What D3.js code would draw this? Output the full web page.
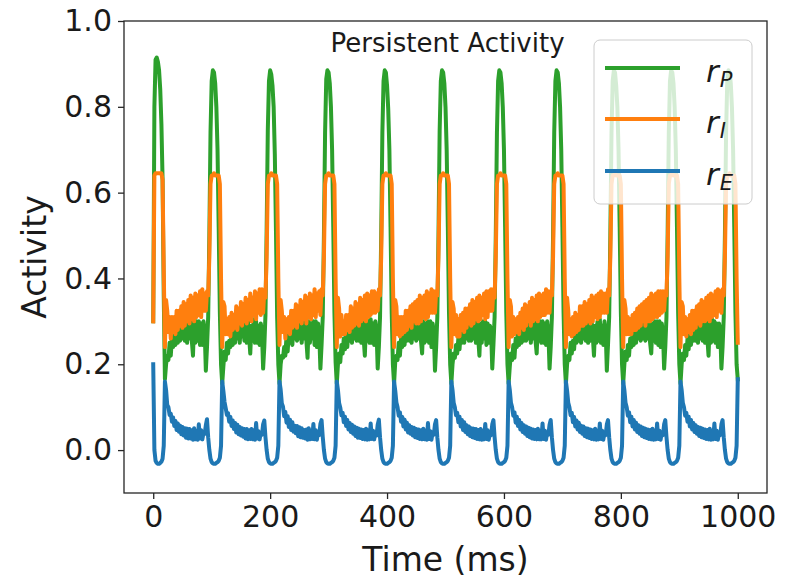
<!DOCTYPE html>
<html>
<head>
<meta charset="utf-8">
<script src="https://cdn.jsdelivr.net/npm/d3@7"></script>
<style>
  html, body { margin: 0; padding: 0; background: #ffffff; }
  svg { display: block; }
</style>
</head>
<body>
<svg id="chart" width="786" height="580"></svg>
<script>
// Sampling grid of the simulation (ms)
const timeMs = d3.range(0, 1001, 2);

const xTicks = [0, 200, 400, 600, 800, 1000];
const yTicks = [0.0, 0.2, 0.4, 0.6, 0.8, 1.0];

const chartTitle = "Persistent Activity";
const xLabel = "Time (ms)";
const yLabel = "Activity";

// rP: persistent population rate, one row per oscillation cycle
const rP = [
  0.30,0.80,0.91,0.915,0.905,0.885,0.84,0.76,0.63,0.36,0.165,
  0.20,0.22,0.21,0.25, 0.22,0.26,0.24,0.275,0.245,0.285,0.25,0.29,0.255,0.29, 0.26,0.30,0.255,0.30,0.25,0.305,0.26,0.30,0.255,0.22, 0.30,0.25,0.30,0.255,0.30,0.245,0.295,0.245,0.30,
  0.28,0.185,0.24,0.31,0.50,0.74,0.86,0.885,0.88,0.855, 0.80,0.70,0.52,0.32,0.20,0.155,0.195,0.23,0.21,0.25, 0.225,0.255,0.24,0.27,0.245,0.285,0.25,0.285,0.26,0.295, 0.25,0.30,0.265,0.29,0.255,0.305,0.25,0.30,0.265,0.225, 0.29,0.255,0.305,0.25,0.30,0.25,0.29,0.245,0.295,
  0.275,0.19,0.24,0.315,0.51,0.745,0.86,0.885,0.875,0.85, 0.80,0.69,0.51,0.31,0.20,0.155,0.20,0.22,0.215,0.24, 0.22,0.265,0.23,0.275,0.25,0.28,0.245,0.29,0.26,0.29, 0.255,0.305,0.26,0.30,0.25,0.295,0.26,0.305,0.255,0.215, 0.30,0.25,0.295,0.26,0.30,0.245,0.30,0.24,0.295,
  0.27,0.19,0.245,0.31,0.50,0.74,0.865,0.885,0.88,0.855, 0.80,0.70,0.52,0.32,0.205,0.155,0.20,0.225,0.205,0.245, 0.225,0.26,0.235,0.28,0.24,0.285,0.255,0.29,0.25,0.30, 0.26,0.295,0.255,0.30,0.255,0.305,0.25,0.30,0.26,0.22, 0.295,0.255,0.30,0.25,0.305,0.25,0.295,0.245,0.30,
  0.28,0.19,0.24,0.31,0.50,0.74,0.86,0.885,0.88,0.85, 0.795,0.70,0.52,0.32,0.20,0.155,0.205,0.22,0.21,0.25, 0.22,0.26,0.24,0.27,0.245,0.28,0.255,0.285,0.255,0.295, 0.25,0.30,0.26,0.30,0.255,0.30,0.26,0.30,0.255,0.225, 0.30,0.25,0.295,0.255,0.30,0.25,0.30,0.24,0.295,
  0.275,0.185,0.24,0.31,0.50,0.745,0.86,0.885,0.88,0.855, 0.80,0.70,0.52,0.32,0.20,0.155,0.20,0.225,0.215,0.245, 0.225,0.26,0.235,0.275,0.25,0.28,0.25,0.29,0.26,0.29, 0.255,0.305,0.255,0.295,0.26,0.30,0.25,0.305,0.26,0.22, 0.295,0.25,0.30,0.26,0.30,0.245,0.295,0.25,0.29,
  0.28,0.19,0.245,0.31,0.50,0.74,0.86,0.885,0.88,0.855, 0.80,0.70,0.52,0.32,0.20,0.155,0.195,0.225,0.21,0.245, 0.215,0.26,0.24,0.275,0.245,0.285,0.25,0.29,0.255,0.30, 0.255,0.295,0.26,0.30,0.25,0.30,0.26,0.30,0.255,0.225, 0.30,0.255,0.30,0.25,0.30,0.25,0.295,0.245,0.30,
  0.275,0.19,0.24,0.31,0.50,0.74,0.86,0.885,0.88,0.855, 0.80,0.70,0.52,0.32,0.20,0.155,0.20,0.22,0.21,0.25, 0.225,0.255,0.235,0.275,0.25,0.28,0.255,0.285,0.25,0.295, 0.26,0.30,0.255,0.30,0.25,0.305,0.255,0.30,0.265,0.22, 0.29,0.25,0.30,0.255,0.305,0.25,0.29,0.245,0.30,
  0.28,0.185,0.245,0.31,0.50,0.74,0.86,0.885,0.88,0.85, 0.80,0.70,0.52,0.32,0.20,0.155,0.20,0.23,0.21,0.245, 0.22,0.26,0.24,0.27,0.245,0.285,0.25,0.29,0.26,0.295, 0.255,0.30,0.26,0.295,0.255,0.30,0.26,0.305,0.25,0.225, 0.295,0.255,0.30,0.25,0.30,0.245,0.30,0.24,0.295,
  0.275,0.19,0.24,0.31,0.50,0.74,0.86,0.885,0.88,0.855, 0.80,0.70,0.52,0.32,0.20,0.155,0.20,0.225,0.21,0.245, 0.22,0.26,0.235,0.28,0.245,0.28,0.255,0.29,0.255,0.295, 0.25,0.30,0.26,0.30,0.255,0.30,0.25,0.305,0.26,0.22, 0.295,0.25,0.305,0.255,0.30,0.25,0.295,0.24,0.295,
  0.28,0.19,0.24,0.31,0.50,0.74,0.86,0.885,0.88,0.855, 0.80,0.70,0.52,0.32,0.20,0.165
];

// rI: inhibitory population rate
const rI = [
  0.30,0.64,0.645,0.645,0.645,0.645,0.645,0.645,0.63,0.42,0.24,
  0.35,0.325,0.275,0.31, 0.26,0.31,0.275,0.31,0.27,0.325,0.28,0.325,0.29,0.335, 0.285,0.345,0.29,0.34,0.30,0.35,0.295,0.36,0.305,0.355, 0.30,0.365,0.31,0.36,0.315,0.37,0.31,0.375,0.325,
  0.365,0.325,0.37,0.36,0.45,0.62,0.64,0.64,0.645,0.64, 0.64,0.64,0.64,0.62,0.40,0.24,0.345,0.335,0.27,0.305, 0.27,0.31,0.265,0.32,0.28,0.315,0.285,0.335,0.28,0.33, 0.295,0.345,0.29,0.34,0.30,0.355,0.295,0.35,0.305,0.365, 0.30,0.355,0.315,0.37,0.305,0.365,0.32,0.375,0.315,
  0.375,0.32,0.37,0.355,0.45,0.62,0.64,0.64,0.645,0.64, 0.64,0.64,0.64,0.62,0.40,0.245,0.35,0.325,0.275,0.31, 0.26,0.305,0.275,0.31,0.27,0.325,0.285,0.325,0.29,0.34, 0.285,0.335,0.30,0.35,0.295,0.345,0.305,0.36,0.295,0.355, 0.31,0.365,0.305,0.36,0.315,0.375,0.31,0.365,0.325,
  0.37,0.315,0.375,0.36,0.45,0.62,0.64,0.64,0.645,0.64, 0.64,0.64,0.64,0.62,0.40,0.24,0.355,0.33,0.265,0.315, 0.27,0.30,0.27,0.315,0.28,0.315,0.275,0.335,0.285,0.33, 0.29,0.345,0.295,0.34,0.29,0.355,0.30,0.35,0.305,0.36, 0.30,0.365,0.31,0.36,0.315,0.37,0.32,0.37,0.32,
  0.365,0.325,0.375,0.36,0.45,0.62,0.64,0.64,0.645,0.64, 0.64,0.64,0.64,0.62,0.40,0.24,0.35,0.335,0.27,0.31, 0.265,0.31,0.27,0.31,0.275,0.325,0.28,0.325,0.29,0.335, 0.285,0.34,0.30,0.345,0.295,0.35,0.295,0.36,0.30,0.355, 0.31,0.36,0.305,0.37,0.31,0.365,0.32,0.375,0.32,
  0.37,0.32,0.37,0.36,0.45,0.62,0.64,0.64,0.645,0.64, 0.64,0.64,0.64,0.62,0.40,0.24,0.345,0.33,0.27,0.315, 0.265,0.305,0.265,0.315,0.28,0.32,0.275,0.33,0.285,0.33, 0.295,0.34,0.29,0.35,0.295,0.345,0.305,0.355,0.30,0.36, 0.305,0.355,0.315,0.365,0.305,0.37,0.31,0.37,0.325,
  0.375,0.325,0.375,0.355,0.45,0.62,0.64,0.64,0.645,0.64, 0.64,0.64,0.64,0.62,0.40,0.24,0.35,0.335,0.265,0.31, 0.27,0.305,0.275,0.31,0.27,0.32,0.285,0.33,0.28,0.34, 0.29,0.335,0.30,0.345,0.29,0.355,0.30,0.35,0.305,0.36, 0.30,0.365,0.31,0.36,0.315,0.365,0.315,0.375,0.32,
  0.37,0.32,0.37,0.36,0.45,0.62,0.64,0.64,0.645,0.64, 0.64,0.64,0.64,0.62,0.40,0.24,0.355,0.325,0.27,0.305, 0.265,0.31,0.27,0.32,0.275,0.315,0.28,0.335,0.29,0.335, 0.29,0.345,0.295,0.34,0.30,0.35,0.295,0.36,0.30,0.355, 0.31,0.36,0.305,0.365,0.31,0.37,0.32,0.365,0.32,
  0.365,0.32,0.375,0.36,0.45,0.62,0.64,0.64,0.645,0.64, 0.64,0.64,0.64,0.62,0.40,0.24,0.35,0.33,0.27,0.31, 0.27,0.305,0.27,0.315,0.28,0.32,0.28,0.33,0.285,0.335, 0.29,0.34,0.30,0.345,0.29,0.35,0.30,0.355,0.30,0.365, 0.305,0.36,0.31,0.365,0.31,0.37,0.315,0.37,0.32,
  0.37,0.325,0.37,0.36,0.45,0.62,0.64,0.64,0.645,0.64, 0.64,0.64,0.64,0.62,0.40,0.24,0.345,0.335,0.27,0.31, 0.265,0.305,0.275,0.315,0.27,0.325,0.28,0.325,0.285,0.335, 0.295,0.34,0.29,0.35,0.30,0.345,0.30,0.355,0.305,0.36, 0.30,0.365,0.31,0.36,0.315,0.37,0.31,0.375,0.325,
  0.37,0.32,0.375,0.36,0.45,0.62,0.64,0.64,0.645,0.64, 0.64,0.64,0.64,0.62,0.40,0.25
];

// rE: excitatory population rate
const rE = [
  0.20,0.0,-0.025,-0.03,-0.032,-0.032,-0.03,-0.027,-0.02,0.01,0.16,
  0.14,0.105,0.10,0.082, 0.085,0.066,0.076,0.056,0.068,0.047,0.062,0.043,0.057,0.037, 0.054,0.034,0.051,0.029,0.05,0.027,0.049,0.027,0.046,0.024, 0.051,0.025,0.044,0.024,0.06,0.027,0.046,0.025,0.04,
  0.038,0.058,0.072,0.03,0.0,-0.02,-0.028,-0.031,-0.032,-0.032, -0.03,-0.028,-0.025,-0.018,0.01,0.16,0.138,0.112,0.098,0.082, 0.086,0.066,0.077,0.056,0.069,0.049,0.063,0.041,0.059,0.037, 0.054,0.034,0.051,0.031,0.049,0.027,0.049,0.025,0.046,0.026, 0.049,0.025,0.046,0.024,0.063,0.027,0.044,0.025,0.041,
  0.036,0.06,0.069,0.03,0.0,-0.02,-0.028,-0.031,-0.032,-0.032, -0.03,-0.028,-0.025,-0.018,0.01,0.16,0.141,0.109,0.101,0.079, 0.089,0.064,0.079,0.054,0.071,0.047,0.065,0.043,0.057,0.039, 0.056,0.032,0.053,0.03,0.051,0.029,0.047,0.027,0.048,0.024, 0.051,0.025,0.045,0.026,0.061,0.025,0.046,0.024,0.043,
  0.035,0.061,0.07,0.031,0.0,-0.02,-0.028,-0.031,-0.032,-0.032, -0.03,-0.028,-0.025,-0.018,0.01,0.16,0.14,0.11,0.099,0.081, 0.087,0.065,0.078,0.056,0.07,0.048,0.063,0.042,0.059,0.038, 0.055,0.033,0.052,0.029,0.05,0.028,0.048,0.026,0.047,0.025, 0.05,0.024,0.046,0.025,0.062,0.026,0.045,0.025,0.042,
  0.034,0.059,0.071,0.03,0.0,-0.02,-0.028,-0.031,-0.032,-0.032, -0.03,-0.028,-0.025,-0.018,0.01,0.16,0.139,0.111,0.1,0.08, 0.088,0.066,0.077,0.055,0.071,0.048,0.064,0.041,0.058,0.038, 0.054,0.034,0.052,0.03,0.049,0.028,0.048,0.026,0.046,0.025, 0.05,0.025,0.045,0.024,0.063,0.026,0.044,0.024,0.042,
  0.036,0.06,0.07,0.03,0.0,-0.02,-0.028,-0.031,-0.032,-0.032, -0.03,-0.028,-0.025,-0.018,0.01,0.16,0.14,0.11,0.1,0.081, 0.087,0.065,0.078,0.055,0.07,0.047,0.065,0.042,0.058,0.037, 0.055,0.033,0.051,0.03,0.05,0.028,0.049,0.026,0.047,0.025, 0.049,0.024,0.045,0.025,0.061,0.026,0.046,0.024,0.041,
  0.035,0.06,0.07,0.03,0.0,-0.02,-0.028,-0.031,-0.032,-0.032, -0.03,-0.028,-0.025,-0.018,0.01,0.16,0.14,0.11,0.1,0.08, 0.088,0.064,0.078,0.056,0.07,0.048,0.063,0.042,0.058,0.038, 0.055,0.033,0.052,0.03,0.05,0.027,0.048,0.026,0.047,0.025, 0.05,0.025,0.045,0.025,0.062,0.026,0.045,0.024,0.042,
  0.036,0.059,0.07,0.03,0.0,-0.02,-0.028,-0.031,-0.032,-0.032, -0.03,-0.028,-0.025,-0.018,0.01,0.16,0.139,0.11,0.1,0.081, 0.087,0.065,0.077,0.055,0.069,0.048,0.064,0.042,0.057,0.038, 0.055,0.033,0.051,0.03,0.05,0.028,0.048,0.026,0.046,0.025, 0.05,0.024,0.045,0.025,0.062,0.026,0.045,0.024,0.042,
  0.035,0.06,0.07,0.03,0.0,-0.02,-0.028,-0.031,-0.032,-0.032, -0.03,-0.028,-0.025,-0.018,0.01,0.16,0.14,0.11,0.1,0.08, 0.088,0.065,0.078,0.055,0.07,0.048,0.064,0.042,0.058,0.038, 0.055,0.033,0.052,0.03,0.05,0.028,0.048,0.026,0.047,0.025, 0.05,0.024,0.045,0.025,0.062,0.026,0.045,0.024,0.042,
  0.035,0.06,0.07,0.031,0.0,-0.02,-0.028,-0.031,-0.032,-0.032, -0.03,-0.028,-0.025,-0.018,0.01,0.16,0.14,0.11,0.1,0.08, 0.087,0.066,0.078,0.055,0.07,0.048,0.063,0.042,0.058,0.038, 0.054,0.033,0.052,0.03,0.05,0.028,0.048,0.026,0.047,0.025, 0.05,0.024,0.045,0.025,0.062,0.026,0.045,0.024,0.042,
  0.035,0.06,0.07,0.03,0.0,-0.02,-0.028,-0.031,-0.032,-0.032, -0.03,-0.028,-0.025,-0.018,0.01,0.165
];

const seriesKeys = ["P", "I", "E"];
const seriesValues = [rP, rI, rE];
const seriesColors = ["#2ca02c", "#ff7f0e", "#1f77b4"];

// ---- layout ----
const width = 786, height = 580;
const margin = { top: 21, right: 19, bottom: 87, left: 124 };
const innerW = width - margin.left - margin.right;
const innerH = height - margin.top - margin.bottom;
const fontFamily = "'DejaVu Sans', 'Liberation Sans', sans-serif";

const svg = d3.select("#chart");
const g = svg.append("g").attr("transform", `translate(${margin.left},${margin.top})`);

const x = d3.scaleLinear().domain([-50, 1050]).range([0, innerW]);
const y = d3.scaleLinear().domain([-0.1, 1.0]).range([innerH, 0]);

g.append("clipPath").attr("id", "plot-clip")
  .append("rect").attr("width", innerW).attr("height", innerH);

// ---- traces ----
const traces = g.append("g").attr("clip-path", "url(#plot-clip)");
seriesValues.forEach((vals, k) => {
  const line = d3.line()
    .x((d, i) => x(timeMs[i]))
    .y(d => y(d));
  traces.append("path")
    .datum(vals)
    .attr("d", line)
    .attr("fill", "none")
    .attr("stroke", seriesColors[k])
    .attr("stroke-width", 4)
    .attr("stroke-linejoin", "round")
    .attr("stroke-linecap", "square");
});

// ---- axes ----
const xAxis = g.append("g")
  .attr("transform", `translate(0,${innerH})`)
  .call(d3.axisBottom(x).tickValues(xTicks).tickFormat(d3.format("d"))
    .tickSize(6).tickPadding(7).tickSizeOuter(0));
const yAxis = g.append("g")
  .call(d3.axisLeft(y).tickValues(yTicks).tickFormat(d3.format(".1f"))
    .tickSize(6).tickPadding(6).tickSizeOuter(0));

[xAxis, yAxis].forEach(ax => {
  ax.select(".domain").remove();
  ax.selectAll(".tick line").attr("stroke", "#262626").attr("stroke-width", 1.3);
  ax.selectAll(".tick text")
    .attr("fill", "#1a1a1a")
    .style("font-family", fontFamily)
    .style("font-size", "30px");
});

// frame around the plot area
g.append("rect")
  .attr("width", innerW).attr("height", innerH)
  .attr("fill", "none").attr("stroke", "#262626").attr("stroke-width", 1.3);

// ---- labels ----
g.append("text")
  .attr("x", innerW / 2 + 2).attr("y", 31)
  .attr("text-anchor", "middle")
  .style("font-family", fontFamily).style("font-size", "26px")
  .attr("fill", "#1a1a1a")
  .text(chartTitle);

svg.append("text")
  .attr("x", margin.left + innerW / 2).attr("y", 571)
  .attr("text-anchor", "middle")
  .style("font-family", fontFamily).style("font-size", "33px")
  .attr("fill", "#1a1a1a")
  .text(xLabel);

svg.append("text")
  .attr("transform", `translate(46,${margin.top + innerH / 2}) rotate(-90)`)
  .attr("text-anchor", "middle")
  .style("font-family", fontFamily).style("font-size", "33px")
  .attr("fill", "#1a1a1a")
  .text(yLabel);

// ---- legend ----
const legend = svg.append("g").attr("transform", "translate(594,40)");
legend.append("rect")
  .attr("width", 158).attr("height", 164).attr("rx", 6)
  .attr("fill", "#ffffff").attr("fill-opacity", 0.8)
  .attr("stroke", "#cccccc").attr("stroke-width", 1);

const rowHandleY = [28, 79, 131];
seriesKeys.forEach((key, k) => {
  const row = legend.append("g");
  row.append("line")
    .attr("x1", 11).attr("x2", 86)
    .attr("y1", rowHandleY[k]).attr("y2", rowHandleY[k])
    .attr("stroke", seriesColors[k]).attr("stroke-width", 4);
  const t = row.append("text")
    .attr("x", 112).attr("y", rowHandleY[k] + 14)
    .style("font-family", fontFamily)
    .attr("fill", "#1a1a1a");
  t.append("tspan").style("font-style", "italic").style("font-size", "31px").text("r");
  t.append("tspan").attr("dy", 5).attr("dx", 1)
    .style("font-style", "italic").style("font-size", "21px").text(key);
});

if (rP.length !== timeMs.length || rI.length !== timeMs.length || rE.length !== timeMs.length) {
  throw new Error(`length mismatch: ${rP.length} ${rI.length} ${rE.length} vs ${timeMs.length}`);
}
</script>
</body>
</html>
